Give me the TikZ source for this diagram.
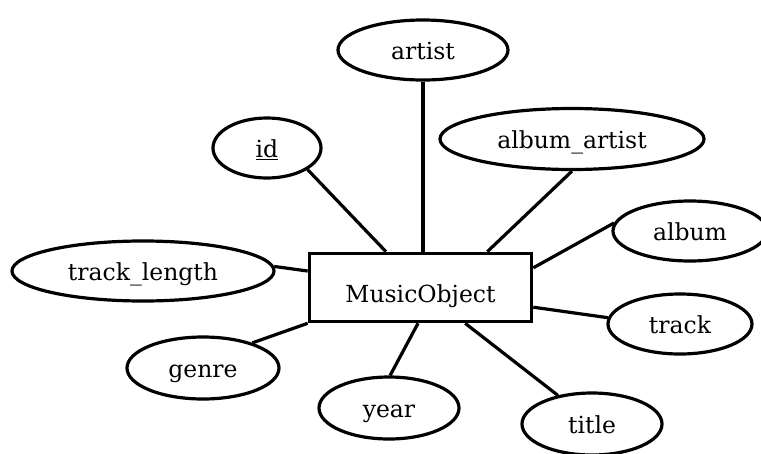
\documentclass[tikz,border=0pt]{standalone}
\usepackage{fontspec}
\setmainfont{DejaVu Serif}
\usetikzlibrary{shapes.geometric,calc}
\begin{document}
\begin{tikzpicture}[x=1pt,y=-1pt,
  attr/.style={ellipse,draw,line width=3.2pt,inner sep=0pt,text height=18pt,text depth=0pt,font=\fontsize{23.5}{27}\selectfont},
  ent/.style={rectangle,draw,line width=3.6pt,inner sep=0pt,text height=29pt,text depth=0pt,minimum width=222pt,minimum height=68pt,font=\fontsize{23.5}{27}\selectfont},
  conn/.style={line width=3.2pt}]
\useasboundingbox (0,0) rectangle (761,453);
\clip (0,0) rectangle (761,453);
\node[ent] (box) at (420.5,287.5) {MusicObject};
\node[attr,minimum width=170pt,minimum height=60pt] (artist) at (423,50) {artist};
\node[attr,minimum width=108pt,minimum height=60pt] (id) at (267,148) {\underline{id}};
\node[attr,minimum width=264pt,minimum height=61pt] (aa) at (572,139) {album\_artist};
\node[attr,minimum width=154pt,minimum height=60pt] (album) at (690,231) {album};
\node[attr,minimum width=262pt,minimum height=60pt] (tl) at (143,271) {track\_length};
\node[attr,minimum width=144pt,minimum height=60pt] (track) at (680,324) {track};
\node[attr,minimum width=152pt,minimum height=62pt] (genre) at (203,368) {genre};
\node[attr,minimum width=140pt,minimum height=62pt] (year) at (389,408) {year};
\node[attr,minimum width=140pt,minimum height=62pt] (title) at (592,424) {title};
\draw[conn] (artist.south) -- (artist.south |- box.north);
\draw[conn] (id.-28) -- ($(box.north west)!0.347!(box.north east)$);
\draw[conn] (aa.-90) -- ($(box.north west)!0.796!(box.north east)$);
\draw[conn] (album.174) -- ($(box.north east)!0.225!(box.south east)$);
\draw[conn] (tl.2) -- ($(box.north west)!0.27!(box.south west)$);
\draw[conn] (track.175) -- ($(box.north east)!0.775!(box.south east)$);
\draw[conn] (genre.27) -- (box.south west);
\draw[conn] (year.88) -- ($(box.south west)!0.489!(box.south east)$);
\draw[conn] (title.140) -- ($(box.south west)!0.698!(box.south east)$);
\end{tikzpicture}
\end{document}
